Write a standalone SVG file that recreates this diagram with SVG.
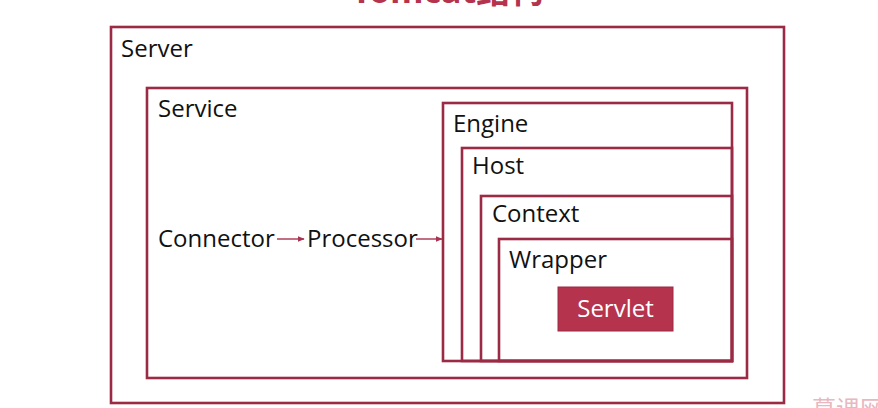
<svg xmlns="http://www.w3.org/2000/svg" width="878" height="408" viewBox="0 0 878 408">
<defs>
<style>
.box{fill:none;stroke:#9b2a45;stroke-width:2.6}
.lbl{font-family:"Open Sans","Noto Sans",sans-serif;font-size:24px;fill:#111}
.conn{stroke:#a8324f;stroke-width:1.4;fill:none}
</style>
<marker id="ah" viewBox="0 0 10 10" refX="9" refY="5" markerWidth="7" markerHeight="7" orient="auto" markerUnits="userSpaceOnUse">
<path d="M0,1 L10,5 L0,9 z" fill="#a8324f"/>
</marker>
</defs>
<rect width="878" height="408" fill="#fff"/>
<text x="448" y="3" text-anchor="middle" font-family="'Noto Sans','Noto Sans CJK SC',sans-serif" font-weight="bold" font-size="34" fill="#b5334d">Tomcat结构</text>
<g id="server"><rect class="box" x="111" y="27" width="673" height="376"/><text class="lbl" x="121" y="57">Server</text></g>
<g id="service"><rect class="box" x="147" y="88" width="600" height="290"/><text class="lbl" x="158" y="117">Service</text></g>
<g id="connector"><text class="lbl" x="158" y="247">Connector</text></g>
<g id="processor"><text class="lbl" x="307" y="247">Processor</text></g>
<g id="engine"><rect class="box" x="443" y="103" width="289" height="258"/><text class="lbl" x="453" y="132">Engine</text></g>
<g id="host"><rect class="box" x="462" y="148" width="270" height="213"/><text class="lbl" x="472" y="174">Host</text></g>
<g id="context"><rect class="box" x="481" y="196" width="251" height="165"/><text class="lbl" x="492" y="222">Context</text></g>
<g id="wrapper"><rect class="box" x="499" y="239" width="233" height="122"/><text class="lbl" x="509" y="268">Wrapper</text></g>
<g id="servlet"><rect x="558" y="287" width="115" height="44" fill="#b5334d" stroke="#9b2a45" stroke-width="1"/><text x="615.5" y="317" text-anchor="middle" font-family="'Open Sans','Noto Sans',sans-serif" font-size="24" fill="#fff">Servlet</text></g>
<g id="connectors">
<line class="conn" x1="277" y1="239" x2="304" y2="239" marker-end="url(#ah)"/>
<line class="conn" x1="416" y1="239" x2="442" y2="239" marker-end="url(#ah)"/>
</g>
<text x="812" y="418" font-family="'Noto Sans CJK SC',sans-serif" font-size="24" fill="#e8b8c0">慕课网</text>
</svg>
